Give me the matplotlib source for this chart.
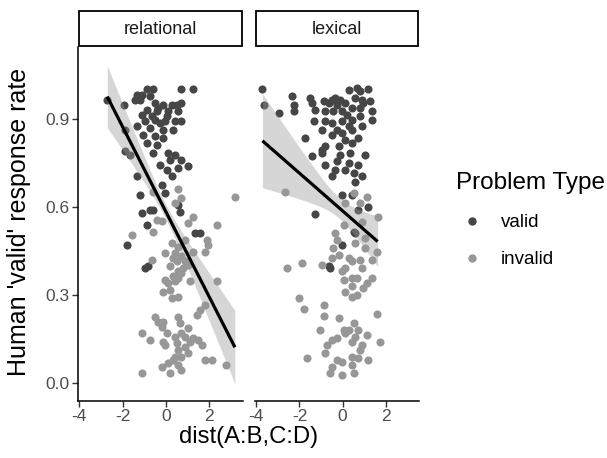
import numpy as np
import matplotlib
matplotlib.use("Agg")
import matplotlib.pyplot as plt
from matplotlib.patches import Rectangle
from matplotlib.lines import Line2D

plt.rcParams['font.family'] = ['Liberation Sans', 'DejaVu Sans']

panels = ["relational", "lexical"]
type_labels = ["valid", "invalid"]
type_colors = ["#464646", "#979797"]

# relational problems: (distance, response rate)
rel_valid_x = [-2.71, -1.92, 0.72, 1.26, -1.35, -0.89, -0.58, -0.74, -1.20, -0.51,
               -0.12, 0.26, 0.49, -0.89, -0.43, 0.11, 0.57, 0.72, 0.42, -0.05,
               -0.51, -0.97, -1.35, -0.74, -0.12, 0.34, -1.05, -0.51, -0.12, -0.89,
               -0.43, -0.58, 0.11, 0.42, 0.18, 0.72, 1.03, 0.57, -0.28, 0.03,
               0.26, -1.89, -1.89, -1.66, -1.35, -1.20, -0.20, -0.05, -1.12, -0.35,
               -0.66, 0.72, -0.28, -1.43, -1.12, 0.03, -0.74, -0.58, -1.12, -0.89,
               -1.82, 1.34, 1.57, -0.97, -0.82, 0.57, 0.65]
rel_valid_y = [0.966, 0.949, 1.002, 1.002, 0.983, 1.002, 1.002, 0.977, 0.966, 0.955,
               0.949, 0.949, 0.949, 0.932, 0.926, 0.926, 0.926, 0.892, 0.892, 0.892,
               0.898, 0.892, 0.875, 0.869, 0.864, 0.864, 0.847, 0.841, 0.835, 0.818,
               0.813, 0.784, 0.784, 0.778, 0.761, 0.761, 0.739, 0.733, 0.744, 0.727,
               0.705, 0.864, 0.790, 0.778, 0.705, 0.642, 0.676, 0.648, 0.983, 0.938,
               0.909, 0.955, 0.886, 0.966, 0.915, 0.909, 0.591, 0.591, 0.580, 0.540,
               0.472, 0.513, 0.513, 0.392, 0.400, 0.607, 0.585]

rel_invalid_x = [0.57, 3.18, 0.72, -0.58, 0.42, -0.43, -0.20, -0.58, -1.58, 1.03,
                 1.26, 2.34, 1.88, 1.95, 0.26, 0.88, 1.26, 1.80, -0.05, -0.66,
                 0.34, 0.72, 0.49, 0.18, 0.80, 1.03, 0.57, 0.34, -0.05, 0.42,
                 1.11, 2.34, -0.12, 0.18, 0.26, 0.57, 1.80, 1.57, 1.42, -0.51,
                 0.57, -0.35, 0.65, -0.20, 0.03, -1.12, -0.74, -0.12, 0.42, 0.72,
                 1.03, 1.26, 1.49, 1.65, 0.88, 0.57, 0.42, 1.03, 0.34, 0.11,
                 -0.20, 0.57, 0.72, 0.18, -1.12, 1.80, 2.11, 2.80, -0.05, 0.88,
                 1.11, 0.72, 0.49, -0.12, 0.72, 0.57, 0.11, 0.88, 0.42, 0.57]
rel_invalid_y = [0.661, 0.636, 0.631, 0.653, 0.614, 0.557, 0.554, 0.517, 0.506, 0.546,
                 0.568, 0.540, 0.489, 0.472, 0.477, 0.489, 0.449, 0.449, 0.443, 0.420,
                 0.426, 0.432, 0.415, 0.398, 0.392, 0.403, 0.381, 0.364, 0.352, 0.347,
                 0.347, 0.347, 0.312, 0.318, 0.290, 0.295, 0.267, 0.250, 0.233, 0.227,
                 0.227, 0.210, 0.205, 0.193, 0.170, 0.170, 0.148, 0.142, 0.159, 0.170,
                 0.188, 0.153, 0.148, 0.131, 0.125, 0.114, 0.091, 0.102, 0.079, 0.068,
                 0.057, 0.062, 0.045, 0.034, 0.034, 0.079, 0.079, 0.062, 0.131, 0.159,
                 0.142, 0.091, 0.136, 0.210, 0.375, 0.358, 0.341, 0.415, 0.443, 0.466]

# lexical problems
lex_valid_x = [-3.72, -3.65, -2.95, -2.34, -2.26, -2.26, -1.49, -1.41, -1.26, -1.34,
               -1.72, -0.88, -0.49, -0.34, -0.11, 0.12, 0.28, 0.66, 0.82, 1.20,
               0.89, 1.28, 1.35, 1.35, -0.80, -0.42, -0.03, 0.43, 0.82, -0.80,
               -0.49, -0.03, 0.43, 0.82, -0.95, -0.49, -0.03, 0.43, 0.74, 0.12,
               0.43, -0.18, -0.80, -0.95, -1.41, -0.95, -0.11, 0.35, 1.05, -0.80,
               -0.26, 0.28, 0.74, 0.12, -0.34, -0.49, 0.51, 0.89, 0.59, -0.03,
               0.43, -0.65, -0.26, 0.59, 0.97, 0.20, 0.28, -0.26, 0.89, 1.20,
               -1.26, 0.74, 0.59, -0.03, -0.57, -0.65, 0.51]
lex_valid_y = [1.002, 0.949, 0.921, 0.977, 0.949, 0.926, 0.972, 0.955, 0.932, 0.892,
               0.835, 0.960, 0.966, 0.972, 0.966, 0.955, 1.000, 1.006, 0.994, 1.002,
               0.966, 0.960, 0.926, 0.898, 0.926, 0.926, 0.926, 0.938, 0.938, 0.892,
               0.886, 0.892, 0.898, 0.909, 0.864, 0.847, 0.852, 0.864, 0.835, 0.830,
               0.818, 0.807, 0.807, 0.795, 0.773, 0.784, 0.778, 0.784, 0.778, 0.744,
               0.756, 0.750, 0.744, 0.727, 0.727, 0.705, 0.716, 0.705, 0.687, 0.642,
               0.642, 0.955, 0.949, 0.972, 0.955, 0.915, 0.875, 0.864, 0.875, 0.602,
               0.577, 0.591, 0.511, 0.472, 0.392, 0.398, 0.517]

lex_invalid_x = [-2.65, 1.12, 0.82, 0.12, 0.89, 1.66, 0.05, -0.34, -0.26, -0.42,
                 0.59, 1.05, 1.05, 1.59, -0.18, -0.49, 0.28, 0.43, 0.82, 1.35,
                 0.89, 0.12, -0.03, -0.95, -1.88, -2.57, 0.05, 0.43, 0.66, 1.35,
                 1.12, 0.97, 0.43, 0.12, 0.43, 0.66, -2.03, -1.80, -0.88, -0.88,
                 -0.18, 1.59, 0.51, 0.12, 0.74, 1.12, -1.03, -0.49, -0.72, -0.80,
                 -0.26, 0.43, 0.82, 1.74, -1.64, -0.26, -0.03, 0.43, 0.74, 1.20,
                 -0.49, -0.57, -0.03, 0.51, 0.43, 0.59, 0.28, 0.05, 0.89, 0.51]
lex_invalid_y = [0.650, 0.634, 0.614, 0.614, 0.551, 0.566, 0.540, 0.511, 0.489, 0.460,
                 0.477, 0.494, 0.460, 0.449, 0.437, 0.426, 0.426, 0.415, 0.420, 0.420,
                 0.392, 0.392, 0.381, 0.403, 0.409, 0.392, 0.352, 0.358, 0.358, 0.358,
                 0.341, 0.324, 0.330, 0.312, 0.295, 0.301, 0.290, 0.253, 0.267, 0.229,
                 0.222, 0.236, 0.205, 0.170, 0.182, 0.165, 0.182, 0.148, 0.131, 0.102,
                 0.153, 0.142, 0.114, 0.142, 0.085, 0.079, 0.074, 0.091, 0.085, 0.079,
                 0.057, 0.034, 0.028, 0.034, 0.062, 0.159, 0.182, 0.182, 0.131, 0.648]

data = {
    "relational": [(rel_valid_x, rel_valid_y), (rel_invalid_x, rel_invalid_y)],
    "lexical": [(lex_valid_x, lex_valid_y), (lex_invalid_x, lex_invalid_y)],
}

# linear fits per panel: x span, fitted values at both ends,
# 95% band half-width at both ends and at its narrowest
fit_x_span = {"relational": (-2.71, 3.19), "lexical": (-3.72, 1.63)}
fit_y_ends = {"relational": (0.976, 0.123), "lexical": (0.826, 0.483)}
band_hw_ends = {"relational": (0.105, 0.125), "lexical": (0.160, 0.086)}
band_hw_min = {"relational": 0.025, "lexical": 0.035}

x_ticks = [-4, -2, 0, 2]
y_ticks = [0.0, 0.3, 0.6, 0.9]
xlim = (-4.05, 3.55)
ylim = (-0.060, 1.147)


def fit_band(name, n=100):
    """Straight fit line with a hyperbolic confidence band, as drawn by an lm smoother."""
    xa, xb = fit_x_span[name]
    ya, yb = fit_y_ends[name]
    ha, hb = band_hw_ends[name]
    h0 = band_hw_min[name]
    # position where the band is narrowest, and its curvature
    r = np.sqrt((hb ** 2 - h0 ** 2) / (ha ** 2 - h0 ** 2))
    xc = (xb + r * xa) / (1 + r)
    k = (hb ** 2 - h0 ** 2) / (xb - xc) ** 2
    xs = np.linspace(xa, xb, n)
    fit = ya + (yb - ya) * (xs - xa) / (xb - xa)
    hw = np.sqrt(h0 ** 2 + k * (xs - xc) ** 2)
    return xs, fit, fit - hw, fit + hw


W, H = 607, 458
fig = plt.figure(figsize=(W / 100, H / 100), dpi=100)

panel_px = [(78.3, 242.7), (255.3, 419.0)]
top_px, bottom_px = 46.5, 401.0
strip_top_px = 10.5

tick_color = "#4D4D4D"
for i, (name, (x0, x1)) in enumerate(zip(panels, panel_px)):
    ax = fig.add_axes([x0 / W, 1 - bottom_px / H, (x1 - x0) / W, (bottom_px - top_px) / H])
    for (gx, gy), col in zip(data[name], type_colors):
        ax.scatter(gx, gy, s=34, color=col, linewidths=0, zorder=2)
    xs, fit, lo, hi = fit_band(name)
    ax.fill_between(xs, lo, hi, color="#999999", alpha=0.4, linewidth=0, zorder=3)
    ax.plot(xs, fit, color="black", lw=2.3, zorder=4, solid_capstyle="butt")

    ax.set_xlim(*xlim)
    ax.set_ylim(*ylim)
    ax.set_xticks(x_ticks)
    ax.set_xticklabels([str(t) for t in x_ticks])
    for s in ["top", "right"]:
        ax.spines[s].set_visible(False)
    ax.spines["bottom"].set_linewidth(1.1)
    ax.spines["left"].set_linewidth(1.1)
    ax.tick_params(axis="both", length=4, width=1.0, color="#333333",
                   labelsize=12.5, labelcolor=tick_color, pad=2)
    if i == 0:
        ax.set_yticks(y_ticks)
        ax.set_yticklabels([f"{t:.1f}" for t in y_ticks])
    else:
        ax.spines["left"].set_visible(False)
        ax.set_yticks([])
    ax.patch.set_alpha(0)

    # facet strip
    sax = fig.add_axes([x0 / W, 1 - top_px / H, (x1 - x0) / W, (top_px - strip_top_px) / H])
    sax.set_xlim(0, 1)
    sax.set_ylim(0, 1)
    sax.axis("off")
    sax.add_patch(Rectangle((0.004, 0.02), 0.992, 0.96, transform=sax.transAxes,
                            facecolor="white", edgecolor="black", lw=1.3, clip_on=False))
    sax.text(0.5, 0.48, name, ha="center", va="center", fontsize=13, color="#1A1A1A")

fig.text((78.3 + 419) / 2 / W, 1 - 437 / H, "dist(A:B,C:D)", ha="center", va="center",
         fontsize=17.2)
fig.text(19 / W, 1 - 222 / H, "Human 'valid' response rate", ha="center", va="center",
         rotation=90, fontsize=18)

handles = [Line2D([], [], marker="o", linestyle="", markersize=6,
                  markerfacecolor=c, markeredgewidth=0) for c in type_colors]
fig.legend(handles, type_labels, title="Problem Type", loc="upper left",
           bbox_to_anchor=(448 / W, 1 - 165 / H), frameon=False,
           fontsize=13.5, title_fontsize=17.5, handletextpad=0.6, labelspacing=1.05,
           borderaxespad=0, handlelength=1.8, alignment="left")

fig.savefig("out.png", dpi=100)
